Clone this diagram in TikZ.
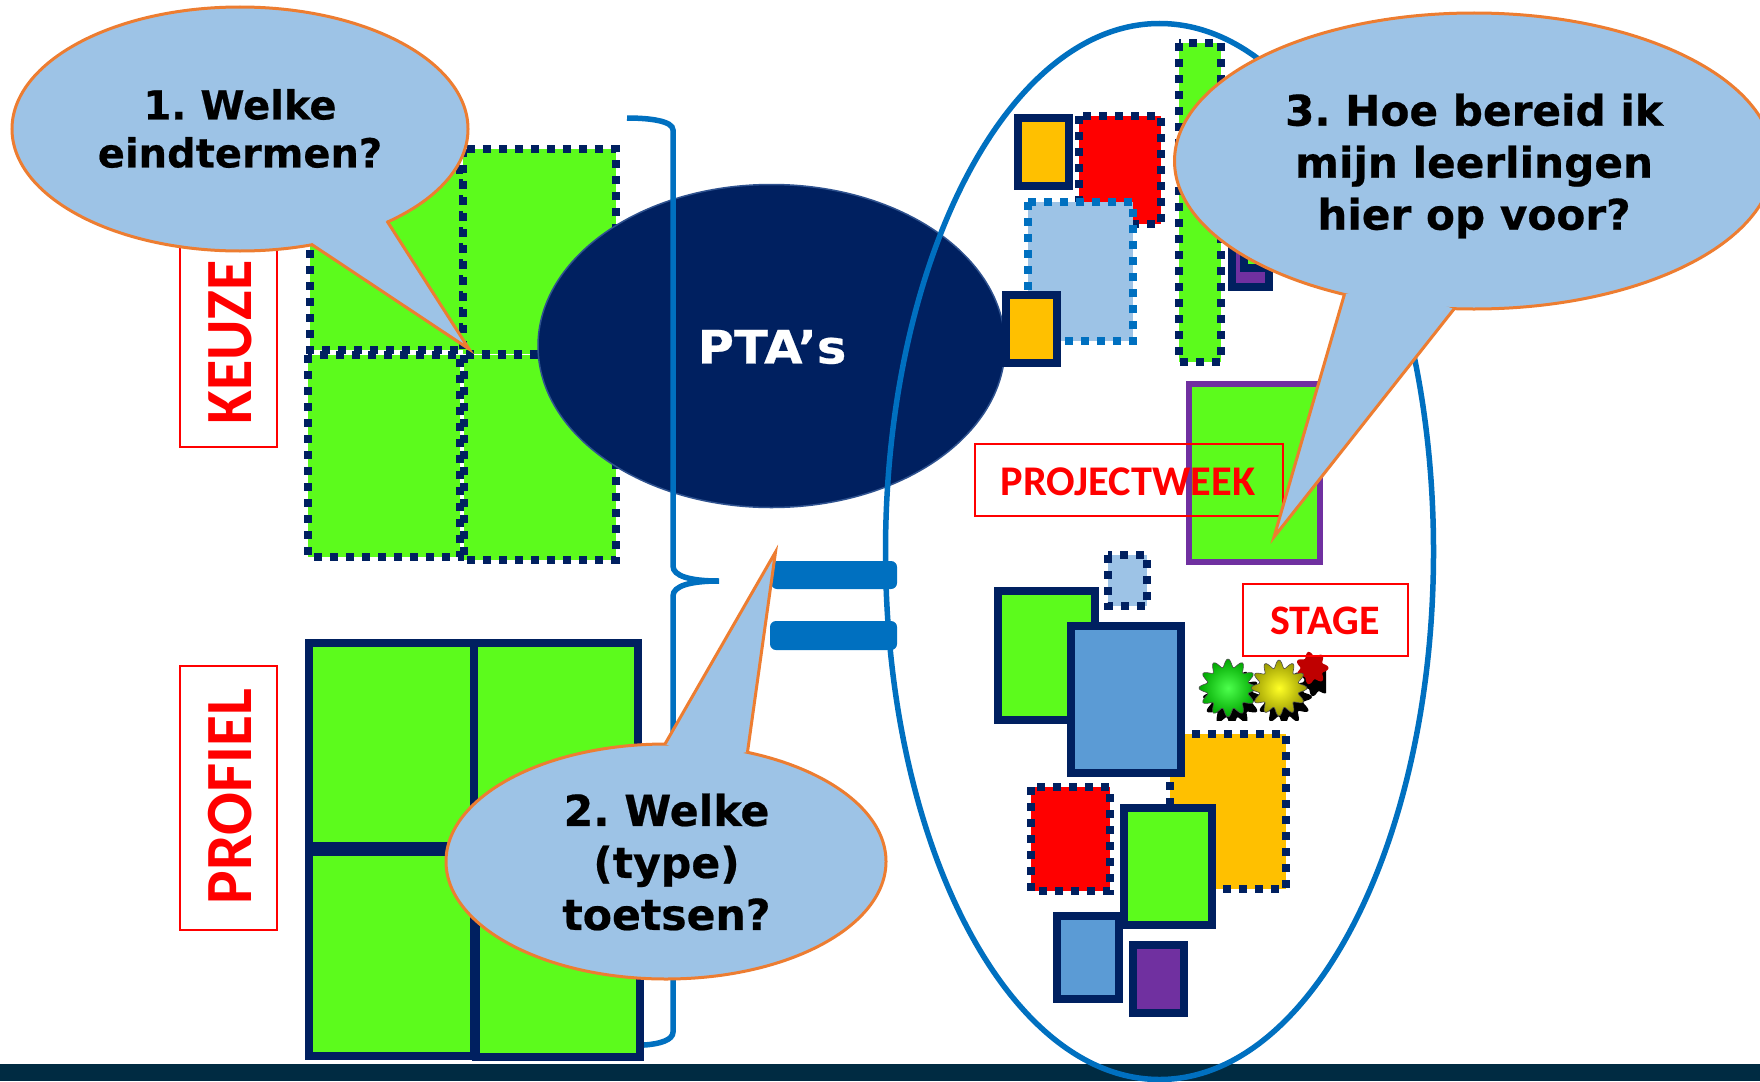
\documentclass[tikz,border=0pt]{standalone}
\usepackage{fontspec}
\usepackage{graphicx}
\usetikzlibrary{shapes.geometric}
\newfontfamily\dvfam[Ligatures=TeX,FakeBold=0.5]{DejaVu Sans Bold}
\newcommand{\dvbold}{\dvfam\frenchspacing}
\newfontfamily\cafam{Carlito}
\newcommand{\cabold}{\cafam\bfseries}
\definecolor{navy}{HTML}{002060}
\definecolor{grn}{HTML}{5CFB1C}
\definecolor{pale}{HTML}{9DC3E6}
\definecolor{mid}{HTML}{5B9BD5}
\definecolor{orng}{HTML}{ED7D31}
\definecolor{amber}{HTML}{FFC000}
\definecolor{violet}{HTML}{7030A0}
\definecolor{sea}{HTML}{0070C0}
\definecolor{bar}{HTML}{002B42}
\definecolor{edge}{HTML}{2F528F}
\tikzset{
  dotbox/.style={draw=navy,line width=8.4pt,dash pattern=on 8pt off 8pt},
  solidbox/.style={draw=navy,line width=8pt,line join=miter},
  bubble/.style={ellipse,draw=orng,fill=pale,line width=3pt,inner sep=0pt,outer sep=0pt},
  tailfill/.style={fill=pale,draw=none},
  tailline/.style={draw=orng,line width=3pt,line join=miter,miter limit=12},
  bubbletext/.style={align=center,text=black,font=\dvbold\fontsize{#1}{52}\selectfont},
  redbox/.style={draw=red,line width=1.6pt,fill=none},
  redtext/.style={text=red,inner sep=0pt},
  bluebar/.style={fill=sea,rounded corners=6pt},
  gearline/.style={draw=black!70,line width=.6pt}
}
\newcommand{\gearoutline}[3]{plot[domain=0:360,samples=#3*10+1,smooth] (\x:{#1+#2*cos(#3*\x)}) -- cycle}
\begin{document}
\begin{tikzpicture}[x=1pt,y=-1pt]
\useasboundingbox (0,0) rectangle (1760,1081);
\fill[white] (0,0) rectangle (1760,1081);
% keuze grid
\fill[grn] (310,170) rectangle (463,350); \draw[dotbox] (310,170) rectangle (463,350);
\fill[grn] (463,149) rectangle (616,354); \draw[dotbox] (463,149) rectangle (616,354);
\fill[grn] (308,355) rectangle (460,557); \draw[dotbox] (308,355) rectangle (460,557);
\fill[grn] (464,355) rectangle (616,560); \draw[dotbox] (464,355) rectangle (616,560);
% PTA ellipse
\node[ellipse,fill=navy,draw=edge,line width=1.5pt,minimum width=467pt,minimum height=323pt,inner sep=0pt] (pta) at (771.5,346) {};
\node[text=white,font=\dvbold\fontsize{46}{52}\selectfont] (ptat) at (772,347) {\scalebox{1.08}[1]{PTA’s}};
% brace
\draw[sea,line width=5.5pt] (627,118) .. controls (650,118) and (673,121) .. (673,130) -- (673,566)
  .. controls (673,576) and (690,581) .. (719,581) .. controls (690,581) and (673,586) .. (673,596)
  -- (673,1032) .. controls (673,1040) and (660,1044) .. (644,1045);
% profiel grid
\fill[grn] (309,643) rectangle (474,846); \draw[solidbox] (309,643) rectangle (474,846);
\fill[grn] (474,643) rectangle (638,850); \draw[solidbox] (474,643) rectangle (638,850);
\fill[grn] (309,852) rectangle (474,1056); \draw[solidbox] (309,852) rectangle (474,1056);
\fill[grn] (476,852) rectangle (640,1057); \draw[solidbox] (476,852) rectangle (640,1057);
% bottom bar
\fill[bar] (0,1064) rectangle (1760,1081);
% big ellipse
\node[ellipse,draw=sea,line width=5.5pt,minimum width=548pt,minimum height=1056pt,inner sep=0pt,outer sep=0pt] (big) at (1159.5,551.5) {};
% upper group
\fill[violet] (1232,190) rectangle (1269,287); \draw[solidbox] (1232,190) rectangle (1269,287);
\fill[grn] (1244,170) rectangle (1262,268); \draw[solidbox] (1244,170) rectangle (1262,268);
\fill[red] (1079,116) rectangle (1161,224); \draw[dotbox] (1079,116) rectangle (1161,224);
\fill[grn] (1179,43) rectangle (1221,362); \draw[dotbox] (1179,43) rectangle (1221,362);
\fill[amber] (1018,118) rectangle (1069,186); \draw[solidbox] (1018,118) rectangle (1069,186);
\fill[pale] (1028,202) rectangle (1133,341); \draw[dotbox,draw=sea] (1028,202) rectangle (1133,341);
\fill[amber] (1006,295) rectangle (1057,363); \draw[solidbox] (1006,295) rectangle (1057,363);
% project rectangle
\fill[grn] (1189,384) rectangle (1320,562); \draw[draw=violet,line width=5.5pt] (1189,384) rectangle (1320,562);
% lower group
\fill[pale] (1108,555) rectangle (1147,606); \draw[dotbox] (1108,555) rectangle (1147,606);
\fill[amber] (1170,734) rectangle (1286,889); \draw[dotbox] (1170,734) rectangle (1286,889);
\fill[grn] (998,591) rectangle (1095,720); \draw[solidbox] (998,591) rectangle (1095,720);
\fill[mid] (1071,626) rectangle (1181,773); \draw[solidbox] (1071,626) rectangle (1181,773);
\fill[red] (1031,787) rectangle (1110,891); \draw[dotbox] (1031,787) rectangle (1110,891);
\fill[mid] (1057,916) rectangle (1119,999); \draw[solidbox] (1057,916) rectangle (1119,999);
\fill[grn] (1124,808) rectangle (1212,925); \draw[solidbox] (1124,808) rectangle (1212,925);
\fill[violet] (1133,945) rectangle (1184,1013); \draw[solidbox] (1133,945) rectangle (1184,1013);
% equals
\fill[bluebar] (771,561) rectangle (897,589);
\fill[bluebar] (770,621) rectangle (897,650);
% gears
\begin{scope}
\clip (1195,650) rectangle (1326,720);
\fill[black,shift={(1232,697)}] \gearoutline{25}{4}{12};
\fill[black,shift={(1284,697)}] \gearoutline{24}{4}{12};
\fill[black,shift={(1316,680)}] \gearoutline{14}{2.5}{7};
\end{scope}
\fill[red!75!black,shift={(1312,668)}] \gearoutline{14}{2.5}{7};
\shade[gearline,inner color=green!70!white,outer color=green!65!black,shift={(1228,688)}] \gearoutline{25}{4}{12};
\shade[gearline,inner color=yellow!85!white,outer color=yellow!60!black,shift={(1279,688)}] \gearoutline{24}{4}{12};
% red labels
\draw[redbox] (180,205) rectangle (277,447);
\node[redtext,rotate=90,font=\cabold\fontsize{66}{66}\selectfont] (keuze) at (230.5,342.5) {\scalebox{.94}[1]{KEUZE}};
\draw[redbox] (180,666) rectangle (277,930);
\node[redtext,rotate=90,font=\cabold\fontsize{66}{66}\selectfont] (profiel) at (230.5,796.5) {\scalebox{.96}[1]{PROFIEL}};
\draw[redbox] (975,444) rectangle (1283,516);
\node[redtext,font=\cabold\fontsize{42.3}{42}\selectfont] (week) at (1128,482) {PROJECTWEEK};
\draw[redbox] (1243,584) rectangle (1408,656);
\node[redtext,font=\cabold\fontsize{42}{42}\selectfont] (stage) at (1325,621) {STAGE};
% callout 1
\node[bubble,minimum width=456pt,minimum height=244pt] (c1) at (240,129) {};
\coordinate (c1a) at (387,221); \coordinate (c1b) at (469,349); \coordinate (c1c) at (311,244);
\fill[tailfill] (c1a) -- (c1b) -- (c1c) -- (350,220) -- cycle;
\draw[tailline] (c1a) -- (c1b) -- (c1c);
\node[align=center,text=black,font=\dvbold\fontsize{40}{48}\selectfont] (c1t) at (240,128.5) {1. Welke\\eindtermen?};
% callout 2
\node[bubble,minimum width=440pt,minimum height=235pt] (c2) at (666,861.5) {};
\coordinate (c2a) at (665,744); \coordinate (c2b) at (775.5,552); \coordinate (c2c) at (747.5,752);
\fill[tailfill] (c2a) -- (c2b) -- (c2c) -- (705,760) -- cycle;
\draw[tailline] (c2a) -- (c2b) -- (c2c);
\node[bubbletext=42.6] (c2t) at (666.5,862) {2. Welke\\(type)\\toetsen?};
% callout 3
\node[bubble,minimum width=599pt,minimum height=296pt] (c3) at (1474,161) {};
\coordinate (c3a) at (1344.5,294); \coordinate (c3b) at (1274,537); \coordinate (c3c) at (1454,309);
\fill[tailfill] (c3a) -- (c3b) -- (c3c) -- (1400,290) -- cycle;
\draw[tailline] (c3a) -- (c3b) -- (c3c);
\node[bubbletext=42.2] (c3t) at (1474,166) {3. Hoe bereid ik\\mijn leerlingen\\hier op voor?};
\end{tikzpicture}
\end{document}
